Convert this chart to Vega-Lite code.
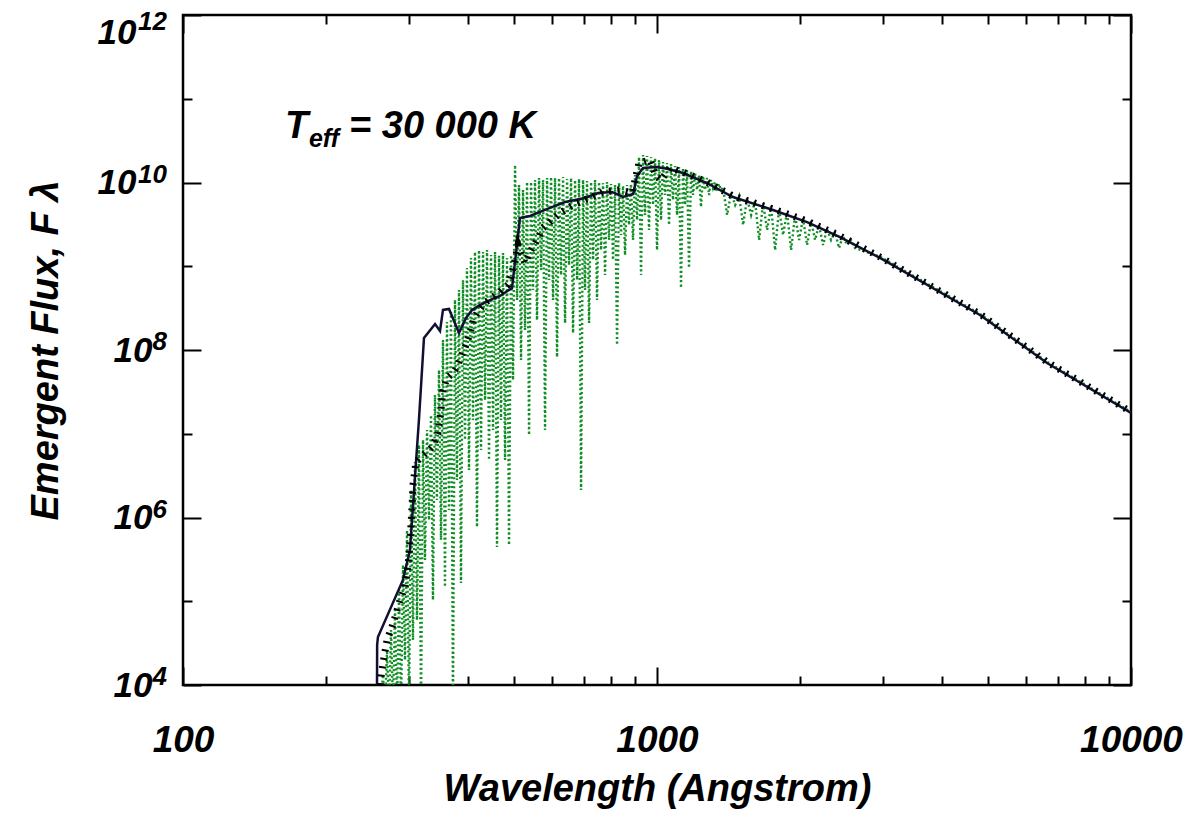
{
  "$schema": "https://vega.github.io/schema/vega-lite/v6.json",
  "width": 948,
  "height": 670,
  "autosize": {"type": "none"},
  "padding": {"left": 183, "top": 15, "right": 61, "bottom": 135},
  "background": "white",
  "config": {
    "view": {"stroke": "black", "strokeWidth": 2.5},
    "font": "Liberation Sans",
    "axis": {
      "domain": false,
      "grid": false,
      "tickColor": "black",
      "tickWidth": 2,
      "labelFont": "Liberation Sans",
      "labelFontWeight": "bold",
      "labelFontStyle": "italic",
      "labelColor": "black",
      "labelFontSize": 36,
      "labelFlush": false,
      "titleFont": "Liberation Sans",
      "titleFontWeight": "bold",
      "titleFontStyle": "italic",
      "titleColor": "black",
      "titleFontSize": 38,
      "labelOverlap": false
    }
  },
  "datasets": {
    "highres": [
      {"wavelength": 260.4, "flux": 5e3},
      {"wavelength": 264.2, "flux": 1.32e4}, {"wavelength": 266.8, "flux": 5e3},
      {"wavelength": 269.4, "flux": 2.62e4}, {"wavelength": 272.0, "flux": 5e3},
      {"wavelength": 274.7, "flux": 4.54e4}, {"wavelength": 277.4, "flux": 5e3},
      {"wavelength": 280.1, "flux": 7.86e4}, {"wavelength": 282.8, "flux": 5e3},
      {"wavelength": 285.6, "flux": 1.36e5}, {"wavelength": 288.4, "flux": 5e3},
      {"wavelength": 291.2, "flux": 2.71e5}, {"wavelength": 294.0, "flux": 1.99e4},
      {"wavelength": 296.9, "flux": 7.09e5}, {"wavelength": 299.8, "flux": 5e3},
      {"wavelength": 302.7, "flux": 2.13e6}, {"wavelength": 305.6, "flux": 3.45e4},
      {"wavelength": 308.6, "flux": 4.60e6}, {"wavelength": 311.6, "flux": 5.97e4},
      {"wavelength": 314.7, "flux": 7.34e6}, {"wavelength": 317.8, "flux": 5e3},
      {"wavelength": 320.9, "flux": 8.42e6}, {"wavelength": 324.0, "flux": 3.11e5},
      {"wavelength": 327.2, "flux": 1.11e7}, {"wavelength": 330.4, "flux": 9.33e5},
      {"wavelength": 333.6, "flux": 1.67e7}, {"wavelength": 336.8, "flux": 1.035e5},
      {"wavelength": 340.1, "flux": 2.90e7}, {"wavelength": 343.4, "flux": 1.62e6},
      {"wavelength": 346.8, "flux": 5.77e7}, {"wavelength": 350.2, "flux": 5.39e5},
      {"wavelength": 353.6, "flux": 1.32e8}, {"wavelength": 357.0, "flux": 1.48e5},
      {"wavelength": 360.5, "flux": 2.16e8}, {"wavelength": 364.0, "flux": 1.23e6},
      {"wavelength": 367.6, "flux": 2.84e8}, {"wavelength": 371.2, "flux": 5e3},
      {"wavelength": 374.8, "flux": 3.95e8}, {"wavelength": 378.5, "flux": 2.80e6},
      {"wavelength": 382.2, "flux": 5.20e8}, {"wavelength": 385.9, "flux": 1.65e5},
      {"wavelength": 389.7, "flux": 6.85e8}, {"wavelength": 393.5, "flux": 8.42e6},
      {"wavelength": 397.3, "flux": 9.53e8}, {"wavelength": 401.2, "flux": 3.69e6},
      {"wavelength": 405.1, "flux": 1.25e9}, {"wavelength": 409.1, "flux": 1.46e7},
      {"wavelength": 413.1, "flux": 1.48e9}, {"wavelength": 417.1, "flux": 7.70e5},
      {"wavelength": 421.2, "flux": 1.56e9}, {"wavelength": 425.3, "flux": 6.40e6},
      {"wavelength": 429.5, "flux": 1.48e9}, {"wavelength": 433.7, "flux": 2.53e7},
      {"wavelength": 437.9, "flux": 1.56e9}, {"wavelength": 442.2, "flux": 4.86e6},
      {"wavelength": 446.5, "flux": 1.36e9}, {"wavelength": 450.9, "flux": 1.11e7},
      {"wavelength": 455.3, "flux": 1.48e9}, {"wavelength": 459.7, "flux": 4.44e5},
      {"wavelength": 464.2, "flux": 1.33e9}, {"wavelength": 468.7, "flux": 1.46e7},
      {"wavelength": 473.3, "flux": 1.44e9}, {"wavelength": 478.0, "flux": 4.86e6},
      {"wavelength": 482.6, "flux": 1.25e9}, {"wavelength": 487.3, "flux": 4.69e5},
      {"wavelength": 492.1, "flux": 1.36e9}, {"wavelength": 496.9, "flux": 4.38e7},
      {"wavelength": 501.8, "flux": 1.618e10}, {"wavelength": 506.7, "flux": 3.95e8},
      {"wavelength": 511.6, "flux": 9.34e9}, {"wavelength": 516.6, "flux": 7.60e7},
      {"wavelength": 521.6, "flux": 8.14e9}, {"wavelength": 526.7, "flux": 1.73e8},
      {"wavelength": 531.9, "flux": 1.014e10}, {"wavelength": 537.1, "flux": 9.66e6},
      {"wavelength": 542.3, "flux": 1.014e10}, {"wavelength": 547.6, "flux": 5.20e8},
      {"wavelength": 552.9, "flux": 1.071e10}, {"wavelength": 558.3, "flux": 2.28e8},
      {"wavelength": 563.8, "flux": 1.132e10}, {"wavelength": 569.3, "flux": 9.02e8},
      {"wavelength": 574.9, "flux": 1.071e10}, {"wavelength": 580.5, "flux": 1.11e7},
      {"wavelength": 586.2, "flux": 1.132e10}, {"wavelength": 591.9, "flux": 6.85e8},
      {"wavelength": 597.7, "flux": 1.163e10}, {"wavelength": 603.5, "flux": 3.95e8},
      {"wavelength": 609.4, "flux": 1.132e10}, {"wavelength": 615.4, "flux": 8.25e7},
      {"wavelength": 621.4, "flux": 1.132e10}, {"wavelength": 627.5, "flux": 7.86e8},
      {"wavelength": 633.6, "flux": 1.163e10}, {"wavelength": 639.8, "flux": 2.10e8},
      {"wavelength": 646.0, "flux": 1.101e10}, {"wavelength": 652.3, "flux": 1.035e9},
      {"wavelength": 658.7, "flux": 1.132e10}, {"wavelength": 665.1, "flux": 1.60e8},
      {"wavelength": 671.6, "flux": 1.071e10}, {"wavelength": 678.2, "flux": 6.85e8},
      {"wavelength": 684.8, "flux": 1.101e10}, {"wavelength": 691.5, "flux": 2.13e6},
      {"wavelength": 698.2, "flux": 1.071e10}, {"wavelength": 705.0, "flux": 5.20e8},
      {"wavelength": 711.9, "flux": 1.042e10}, {"wavelength": 718.9, "flux": 2.10e8},
      {"wavelength": 725.9, "flux": 1.014e10}, {"wavelength": 733.0, "flux": 1.19e9},
      {"wavelength": 740.1, "flux": 1.071e10}, {"wavelength": 747.3, "flux": 3.95e8},
      {"wavelength": 754.6, "flux": 1.014e10}, {"wavelength": 762.0, "flux": 1.56e9},
      {"wavelength": 769.4, "flux": 9.86e9}, {"wavelength": 776.9, "flux": 7.86e8},
      {"wavelength": 784.5, "flux": 1.014e10}, {"wavelength": 792.2, "flux": 2.06e9},
      {"wavelength": 799.9, "flux": 9.60e9}, {"wavelength": 807.7, "flux": 1.19e9},
      {"wavelength": 815.6, "flux": 9.34e9}, {"wavelength": 823.6, "flux": 1.15e8},
      {"wavelength": 831.6, "flux": 9.86e9}, {"wavelength": 839.7, "flux": 2.36e9},
      {"wavelength": 847.9, "flux": 9.08e9}, {"wavelength": 856.2, "flux": 1.36e9},
      {"wavelength": 864.5, "flux": 9.34e9}, {"wavelength": 873.0, "flux": 3.11e9},
      {"wavelength": 881.5, "flux": 9.60e9}, {"wavelength": 890.1, "flux": 2.06e9},
      {"wavelength": 898.8, "flux": 1.229e10}, {"wavelength": 907.6, "flux": 3.57e9},
      {"wavelength": 916.4, "flux": 2.016e10}, {"wavelength": 925.4, "flux": 7.86e8},
      {"wavelength": 934.4, "flux": 2.13e10}, {"wavelength": 943.5, "flux": 4.09e9},
      {"wavelength": 952.7, "flux": 2.072e10}, {"wavelength": 962.0, "flux": 2.71e9},
      {"wavelength": 971.4, "flux": 2.016e10}, {"wavelength": 980.9, "flux": 5.39e9},
      {"wavelength": 990.5, "flux": 1.961e10}, {"wavelength": 1000.2, "flux": 1.56e9},
      {"wavelength": 1009.9, "flux": 1.857e10}, {"wavelength": 1019.8, "flux": 3.57e9},
      {"wavelength": 1029.7, "flux": 1.757e10}, {"wavelength": 1039.8, "flux": 7.09e9},
      {"wavelength": 1049.9, "flux": 1.709e10}, {"wavelength": 1060.2, "flux": 3.11e9},
      {"wavelength": 1070.5, "flux": 1.663e10}, {"wavelength": 1081.0, "flux": 6.18e9},
      {"wavelength": 1091.5, "flux": 1.574e10}, {"wavelength": 1102.2, "flux": 4.09e9},
      {"wavelength": 1112.9, "flux": 1.531e10}, {"wavelength": 1123.8, "flux": 5.50e8},
      {"wavelength": 1134.7, "flux": 1.490e10}, {"wavelength": 1145.8, "flux": 5.39e9},
      {"wavelength": 1157.0, "flux": 1.410e10}, {"wavelength": 1168.3, "flux": 9.53e8},
      {"wavelength": 1179.7, "flux": 1.372e10}, {"wavelength": 1191.2, "flux": 7.09e9},
      {"wavelength": 1202.8, "flux": 1.298e10}, {"wavelength": 1214.6, "flux": 8.14e9},
      {"wavelength": 1226.4, "flux": 1.229e10}, {"wavelength": 1238.4, "flux": 5.10e9},
      {"wavelength": 1250.5, "flux": 1.196e10}, {"wavelength": 1262.7, "flux": 8.14e9},
      {"wavelength": 1275.0, "flux": 1.132e10}, {"wavelength": 1287.5, "flux": 7.09e9},
      {"wavelength": 1300.0, "flux": 1.071e10}, {"wavelength": 1312.7, "flux": 8.60e9},
      {"wavelength": 1325.5, "flux": 1.014e10}, {"wavelength": 1338.5, "flux": 7.70e9},
      {"wavelength": 1351.5, "flux": 9.60e9}, {"wavelength": 1364.5, "flux": 8.14e9},
      {"wavelength": 1378.6, "flux": 8.60e9}, {"wavelength": 1405.9, "flux": 4.09e9},
      {"wavelength": 1433.2, "flux": 7.49e9}, {"wavelength": 1461.6, "flux": 5.39e9},
      {"wavelength": 1490.0, "flux": 6.90e9}, {"wavelength": 1519.5, "flux": 3.11e9},
      {"wavelength": 1549.0, "flux": 6.53e9}, {"wavelength": 1579.7, "flux": 4.09e9},
      {"wavelength": 1610.3, "flux": 6.01e9}, {"wavelength": 1642.2, "flux": 2.06e9},
      {"wavelength": 1674.1, "flux": 5.69e9}, {"wavelength": 1707.3, "flux": 2.71e9},
      {"wavelength": 1740.4, "flux": 5.24e9}, {"wavelength": 1774.9, "flux": 1.56e9},
      {"wavelength": 1809.3, "flux": 4.83e9}, {"wavelength": 1845.1, "flux": 2.36e9},
      {"wavelength": 1880.9, "flux": 4.44e9}, {"wavelength": 1918.2, "flux": 1.56e9},
      {"wavelength": 1955.4, "flux": 4.09e9}, {"wavelength": 1994.1, "flux": 2.06e9},
      {"wavelength": 2032.8, "flux": 3.77e9}, {"wavelength": 2073.1, "flux": 1.79e9},
      {"wavelength": 2113.3, "flux": 3.47e9}, {"wavelength": 2155.2, "flux": 2.06e9},
      {"wavelength": 2197.0, "flux": 3.11e9}, {"wavelength": 2240.5, "flux": 1.79e9},
      {"wavelength": 2284.0, "flux": 2.78e9}, {"wavelength": 2329.2, "flux": 2.06e9},
      {"wavelength": 2374.4, "flux": 2.56e9}, {"wavelength": 2421.4, "flux": 1.65e9},
      {"wavelength": 2468.4, "flux": 2.30e9}, {"wavelength": 2517.3, "flux": 1.79e9},
      {"wavelength": 2566.2, "flux": 2.06e9}, {"wavelength": 2616.5, "flux": 1.65e9},
      {"wavelength": 2954, "flux": 1.30e9},
      {"wavelength": 4801, "flux": 2.70e8},
      {"wavelength": 6650, "flux": 7.20e7},
      {"wavelength": 10000, "flux": 1.82e7}
    ],
    "lowres": [
      {"wavelength": 256.5, "flux": 5e3},
      {"wavelength": 256.8, "flux": 3.01e4},
      {"wavelength": 257.8, "flux": 3.74e4},
      {"wavelength": 291.1, "flux": 1.795e5},
      {"wavelength": 301.2, "flux": 4.09e5},
      {"wavelength": 308.6, "flux": 3.05e6},
      {"wavelength": 314.6, "flux": 1.46e7},
      {"wavelength": 322.4, "flux": 1.39e8},
      {"wavelength": 340.2, "flux": 2.04e8},
      {"wavelength": 348.5, "flux": 1.69e8},
      {"wavelength": 353.6, "flux": 3.01e8},
      {"wavelength": 364.1, "flux": 3.09e8},
      {"wavelength": 382.2, "flux": 1.60e8},
      {"wavelength": 395.5, "flux": 2.41e8},
      {"wavelength": 407.1, "flux": 3.01e8},
      {"wavelength": 423.2, "flux": 3.44e8},
      {"wavelength": 448.6, "flux": 4.06e8},
      {"wavelength": 466.4, "flux": 4.42e8},
      {"wavelength": 494.5, "flux": 5.50e8},
      {"wavelength": 514.0, "flux": 3.77e9},
      {"wavelength": 539.7, "flux": 3.98e9},
      {"wavelength": 566.5, "flux": 4.45e9},
      {"wavelength": 594.9, "flux": 4.97e9},
      {"wavelength": 639.6, "flux": 5.85e9},
      {"wavelength": 704.8, "flux": 6.53e9},
      {"wavelength": 750.9, "flux": 7.50e9},
      {"wavelength": 803.7, "flux": 7.71e9},
      {"wavelength": 848.1, "flux": 6.71e9},
      {"wavelength": 890.4, "flux": 7.29e9},
      {"wavelength": 907.8, "flux": 1.197e10},
      {"wavelength": 934.3, "flux": 1.489e10},
      {"wavelength": 1000, "flux": 1.531e10},
      {"wavelength": 1055, "flux": 1.449e10},
      {"wavelength": 1134, "flux": 1.297e10},
      {"wavelength": 1275, "flux": 9.86e9},
      {"wavelength": 1446, "flux": 6.71e9},
      {"wavelength": 1757, "flux": 4.70e9},
      {"wavelength": 2073, "flux": 3.37e9},
      {"wavelength": 2433, "flux": 2.23e9},
      {"wavelength": 2954, "flux": 1.256e9},
      {"wavelength": 4801, "flux": 2.62e8},
      {"wavelength": 6650, "flux": 7.00e7},
      {"wavelength": 10000, "flux": 1.77e7}
    ],
    "model": [
      {"wavelength": 260.4, "flux": 7.9e3},
      {"wavelength": 261.7, "flux": 1.245e4},
      {"wavelength": 264.2, "flux": 1.83e4},
      {"wavelength": 269.4, "flux": 3.44e4},
      {"wavelength": 276.0, "flux": 4.93e4},
      {"wavelength": 280.1, "flux": 6.49e4},
      {"wavelength": 287.0, "flux": 1.035e5},
      {"wavelength": 294.1, "flux": 1.48e5},
      {"wavelength": 296.9, "flux": 2.17e5},
      {"wavelength": 299.8, "flux": 3.37e5},
      {"wavelength": 301.2, "flux": 5.38e5},
      {"wavelength": 302.7, "flux": 8.13e5},
      {"wavelength": 304.2, "flux": 1.30e6},
      {"wavelength": 305.6, "flux": 2.44e6},
      {"wavelength": 310.1, "flux": 4.60e6},
      {"wavelength": 317.8, "flux": 5.27e6},
      {"wavelength": 327.2, "flux": 6.05e6},
      {"wavelength": 336.9, "flux": 7.14e6},
      {"wavelength": 345.1, "flux": 1.02e7},
      {"wavelength": 350.2, "flux": 1.92e7},
      {"wavelength": 353.6, "flux": 3.33e7},
      {"wavelength": 360.6, "flux": 4.63e7},
      {"wavelength": 371.2, "flux": 5.31e7},
      {"wavelength": 378.5, "flux": 6.27e7},
      {"wavelength": 385.9, "flux": 8.25e7},
      {"wavelength": 395.5, "flux": 1.148e8},
      {"wavelength": 403.2, "flux": 1.60e8},
      {"wavelength": 411.1, "flux": 2.41e8},
      {"wavelength": 421.2, "flux": 3.01e8},
      {"wavelength": 435.7, "flux": 3.74e8},
      {"wavelength": 450.8, "flux": 4.30e8},
      {"wavelength": 466.4, "flux": 4.93e8},
      {"wavelength": 485.0, "flux": 5.97e8},
      {"wavelength": 494.5, "flux": 8.53e8},
      {"wavelength": 501.8, "flux": 1.19e9},
      {"wavelength": 509.1, "flux": 1.79e9},
      {"wavelength": 526.7, "flux": 1.09e9},
      {"wavelength": 539.7, "flux": 1.48e9},
      {"wavelength": 558.2, "flux": 2.06e9},
      {"wavelength": 574.8, "flux": 2.86e9},
      {"wavelength": 600.7, "flux": 3.57e9},
      {"wavelength": 624.3, "flux": 4.33e9},
      {"wavelength": 665.0, "flux": 5.38e9},
      {"wavelength": 711.7, "flux": 6.35e9},
      {"wavelength": 769.2, "flux": 7.71e9},
      {"wavelength": 835.5, "flux": 8.13e9},
      {"wavelength": 885.9, "flux": 7.50e9},
      {"wavelength": 903.0, "flux": 1.197e10},
      {"wavelength": 916.2, "flux": 1.71e10},
      {"wavelength": 966.6, "flux": 1.86e10},
      {"wavelength": 995.2, "flux": 1.197e10},
      {"wavelength": 1019.6, "flux": 1.07e10},
      {"wavelength": 1065, "flux": 1.49e10},
      {"wavelength": 1134, "flux": 1.33e10},
      {"wavelength": 1275, "flux": 1.01e10},
      {"wavelength": 1446, "flux": 6.90e9},
      {"wavelength": 1757, "flux": 4.83e9},
      {"wavelength": 2073, "flux": 3.47e9},
      {"wavelength": 2433, "flux": 2.30e9},
      {"wavelength": 2954, "flux": 1.29e9},
      {"wavelength": 4801, "flux": 2.69e8},
      {"wavelength": 6650, "flux": 7.19e7},
      {"wavelength": 10000, "flux": 1.82e7}
    ],
    "annotBig": [
      {"wavelength": 164.1, "flux": 3.40e10, "text": "T"},
      {"wavelength": 224.0, "flux": 3.40e10, "text": "= 30 000 K"}
    ],
    "annotSmall": [
      {"wavelength": 184.4, "flux": 2.65e10, "text": "eff"}
    ],
    "expMid": [
      {"wavelength": 100, "flux": 10000, "text": "4"},
      {"wavelength": 100, "flux": 1000000, "text": "6"},
      {"wavelength": 100, "flux": 100000000, "text": "8"},
      {"wavelength": 100, "flux": 10000000000, "text": "10"}
    ],
    "expTop": [
      {"wavelength": 100, "flux": 1000000000000, "text": "12"}
    ]
  },
  "layer": [
    {
      "data": {"name": "highres"},
      "mark": {"type": "line", "color": "#0f8f23", "strokeWidth": 2.4, "strokeDash": [2, 2.6], "clip": true},
      "encoding": {
        "x": {
          "field": "wavelength", "type": "quantitative",
          "scale": {"type": "log", "domain": [100, 10000], "nice": false},
          "axis": {
            "orient": "bottom",
            "values": [100, 200, 300, 400, 500, 600, 700, 800, 900, 1000, 2000, 3000, 4000, 5000, 6000, 7000, 8000, 9000, 10000],
            "labelExpr": "datum.value == 100 || datum.value == 1000 || datum.value == 10000 ? '' + datum.value : ''",
            "tickSize": {"condition": {"test": "datum.value == 100 || datum.value == 1000 || datum.value == 10000", "value": -18}, "value": -9},
            "labelFontSize": 37,
            "labelPadding": 55,
            "title": "Wavelength (Angstrom)",
            "titlePadding": 3
          }
        },
        "y": {
          "field": "flux", "type": "quantitative",
          "scale": {"type": "log", "domain": [10000, 1000000000000], "nice": false},
          "axis": {
            "orient": "left",
            "values": [10000, 100000, 1000000, 10000000, 100000000, 1000000000, 10000000000, 100000000000, 1000000000000],
            "labelExpr": "datum.value == 10000 || datum.value == 1000000 || datum.value == 100000000 || datum.value == 10000000000 || datum.value == 1000000000000 ? '10' : ''",
            "tickSize": {"condition": {"test": "datum.value == 10000 || datum.value == 1000000 || datum.value == 100000000 || datum.value == 10000000000 || datum.value == 1000000000000", "value": -18}, "value": -9},
            "labelBaseline": {"condition": {"test": "datum.value == 1000000000000", "value": "top"}, "value": "middle"},
            "labelPadding": {"condition": {"test": "datum.value == 10000000000 || datum.value == 1000000000000", "value": 65}, "value": 49},
            "labelFontSize": 35,
            "title": "Emergent Flux, F  λ",
            "titlePadding": 32
          }
        }
      }
    },
    {
      "data": {"name": "lowres"},
      "mark": {"type": "line", "color": "#101033", "strokeWidth": 2.5, "clip": true},
      "encoding": {
        "x": {
          "field": "wavelength", "type": "quantitative",
          "axis": {
            "orient": "top",
            "values": [100, 200, 300, 400, 500, 600, 700, 800, 900, 1000, 2000, 3000, 4000, 5000, 6000, 7000, 8000, 9000, 10000],
            "labels": false,
            "title": null,
            "tickSize": {"condition": {"test": "datum.value == 100 || datum.value == 1000 || datum.value == 10000", "value": -18}, "value": -9}
          }
        },
        "y": {
          "field": "flux", "type": "quantitative",
          "axis": {
            "orient": "right",
            "values": [10000, 100000, 1000000, 10000000, 100000000, 1000000000, 10000000000, 100000000000, 1000000000000],
            "labels": false,
            "title": null,
            "tickSize": {"condition": {"test": "datum.value == 10000 || datum.value == 1000000 || datum.value == 100000000 || datum.value == 10000000000 || datum.value == 1000000000000", "value": -18}, "value": -9}
          }
        }
      }
    },
    {
      "data": {"name": "model"},
      "mark": {"type": "line", "color": "black", "strokeWidth": 7, "strokeDash": [2, 6.5], "clip": true},
      "encoding": {
        "x": {"field": "wavelength", "type": "quantitative", "axis": null},
        "y": {"field": "flux", "type": "quantitative", "axis": null}
      }
    },
    {
      "data": {"name": "annotBig"},
      "mark": {"type": "text", "align": "left", "baseline": "alphabetic", "font": "Liberation Sans", "fontSize": 38, "fontWeight": "bold", "fontStyle": "italic", "color": "black"},
      "encoding": {
        "x": {"field": "wavelength", "type": "quantitative", "axis": null},
        "y": {"field": "flux", "type": "quantitative", "axis": null},
        "text": {"field": "text"}
      }
    },
    {
      "data": {"name": "annotSmall"},
      "mark": {"type": "text", "align": "left", "baseline": "alphabetic", "font": "Liberation Sans", "fontSize": 25, "fontWeight": "bold", "fontStyle": "italic", "color": "black"},
      "encoding": {
        "x": {"field": "wavelength", "type": "quantitative", "axis": null},
        "y": {"field": "flux", "type": "quantitative", "axis": null},
        "text": {"field": "text"}
      }
    },
    {
      "data": {"name": "expMid"},
      "mark": {"type": "text", "align": "right", "baseline": "alphabetic", "dx": -16, "dy": 0, "font": "Liberation Sans", "fontSize": 26, "fontWeight": "bold", "fontStyle": "italic", "color": "black"},
      "encoding": {
        "x": {"field": "wavelength", "type": "quantitative", "axis": null},
        "y": {"field": "flux", "type": "quantitative", "axis": null},
        "text": {"field": "text"}
      }
    },
    {
      "data": {"name": "expTop"},
      "mark": {"type": "text", "align": "right", "baseline": "alphabetic", "dx": -16, "dy": 15, "font": "Liberation Sans", "fontSize": 26, "fontWeight": "bold", "fontStyle": "italic", "color": "black"},
      "encoding": {
        "x": {"field": "wavelength", "type": "quantitative", "axis": null},
        "y": {"field": "flux", "type": "quantitative", "axis": null},
        "text": {"field": "text"}
      }
    }
  ]
}
